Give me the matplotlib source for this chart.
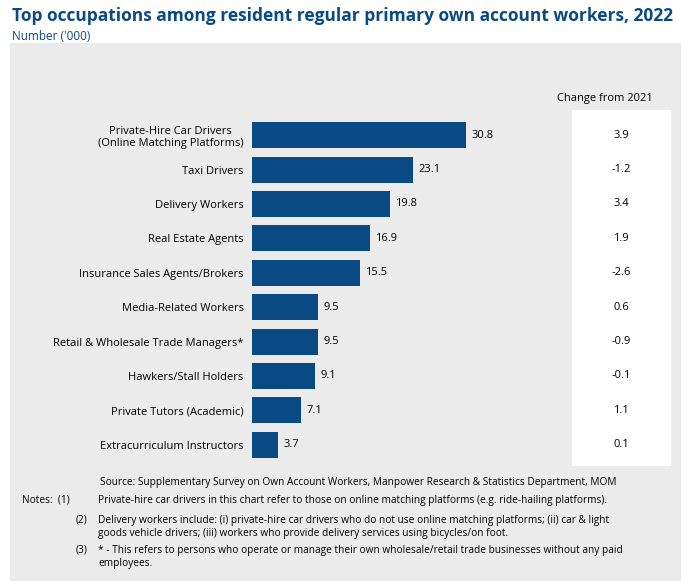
import matplotlib
matplotlib.use("Agg")
import matplotlib.pyplot as plt
import matplotlib.transforms as mtransforms
from matplotlib.patches import Rectangle

occupations = ["Private-Hire Car Drivers\n(Online Matching Platforms)", "Taxi Drivers", "Delivery Workers",
               "Real Estate Agents", "Insurance Sales Agents/Brokers", "Media-Related Workers",
               "Retail & Wholesale Trade Managers*", "Hawkers/Stall Holders", "Private Tutors (Academic)",
               "Extracurriculum Instructors"]
values = [30.8, 23.1, 19.8, 16.9, 15.5, 9.5, 9.5, 9.1, 7.1, 3.7]
changes = ["3.9", "-1.2", "3.4", "1.9", "-2.6", "0.6", "-0.9", "-0.1", "1.1", "0.1"]

plt.rcParams['font.family'] = ['Open Sans', 'DejaVu Sans']
W, H = 692, 588
fig = plt.figure(figsize=(W/100, H/100), dpi=100)
navy = "#0a4a84"
fig.patches.append(Rectangle((10/W, 8/H), 670/W, 537/H, transform=fig.transFigure, color="#ebebeb", zorder=-2))
fig.patches.append(Rectangle((572/W, 1-465/H), 98/W, 355/H, transform=fig.transFigure, color="white", zorder=-1))
fig.text(12/W, 1-16/H, "Top occupations among resident regular primary own account workers, 2022",
         fontsize=12.5, fontweight="bold", color="#0a4a84", va="center")
fig.text(12/W, 1-36/H, "Number ('000)", fontsize=8.5, color="#0a4a84", va="center")

ax = fig.add_axes([252/W, 1-462/H, 306/W, 344/H])
ax.set_facecolor("none")
ax.set_zorder(1)
y = list(range(len(values)))
ax.barh(y, values, height=0.76, color=navy)
for yi, v in zip(y, values):
    ax.text(v + 0.8, yi, f"{v}", va="center", fontsize=8)
ax.set_yticks(y)
ax.set_yticklabels(occupations, fontsize=8, ha="right")
ax.tick_params(axis="y", length=0, pad=6)
for lab in ax.get_yticklabels():
    lab.set_multialignment("center")
ax.set_xlim(0, 44)
ax.set_ylim(len(values)-0.5, -0.5)
ax.set_xticks([])
for s in ax.spines.values():
    s.set_visible(False)
tr = mtransforms.blended_transform_factory(fig.transFigure, ax.transData)
for yi, c in zip(y, changes):
    ax.text(621/W, yi, c, transform=tr, ha="center", va="center", fontsize=8, clip_on=False)
fig.text(605/W, 1-99/H, "Change from 2021", ha="center", va="center", fontsize=8)

fs = 7.3
fig.text(100/W, 1-482/H, "Source: Supplementary Survey on Own Account Workers, Manpower Research & Statistics Department, MOM", fontsize=fs, va="center")
fig.text(22/W, 1-500/H, "Notes:  (1)", fontsize=fs, va="center")
fig.text(98/W, 1-500/H, "Private-hire car drivers in this chart refer to those on online matching platforms (e.g. ride-hailing platforms).", fontsize=fs, va="center")
fig.text(76/W, 1-520/H, "(2)", fontsize=fs, va="center")
fig.text(98/W, 1-527/H, "Delivery workers include: (i) private-hire car drivers who do not use online matching platforms; (ii) car & light\ngoods vehicle drivers; (iii) workers who provide delivery services using bicycles/on foot.", fontsize=fs, va="center", linespacing=1.3)
fig.text(76/W, 1-550/H, "(3)", fontsize=fs, va="center")
fig.text(98/W, 1-557/H, "* - This refers to persons who operate or manage their own wholesale/retail trade businesses without any paid\nemployees.", fontsize=fs, va="center", linespacing=1.3)
fig.savefig("out.png", dpi=100)
